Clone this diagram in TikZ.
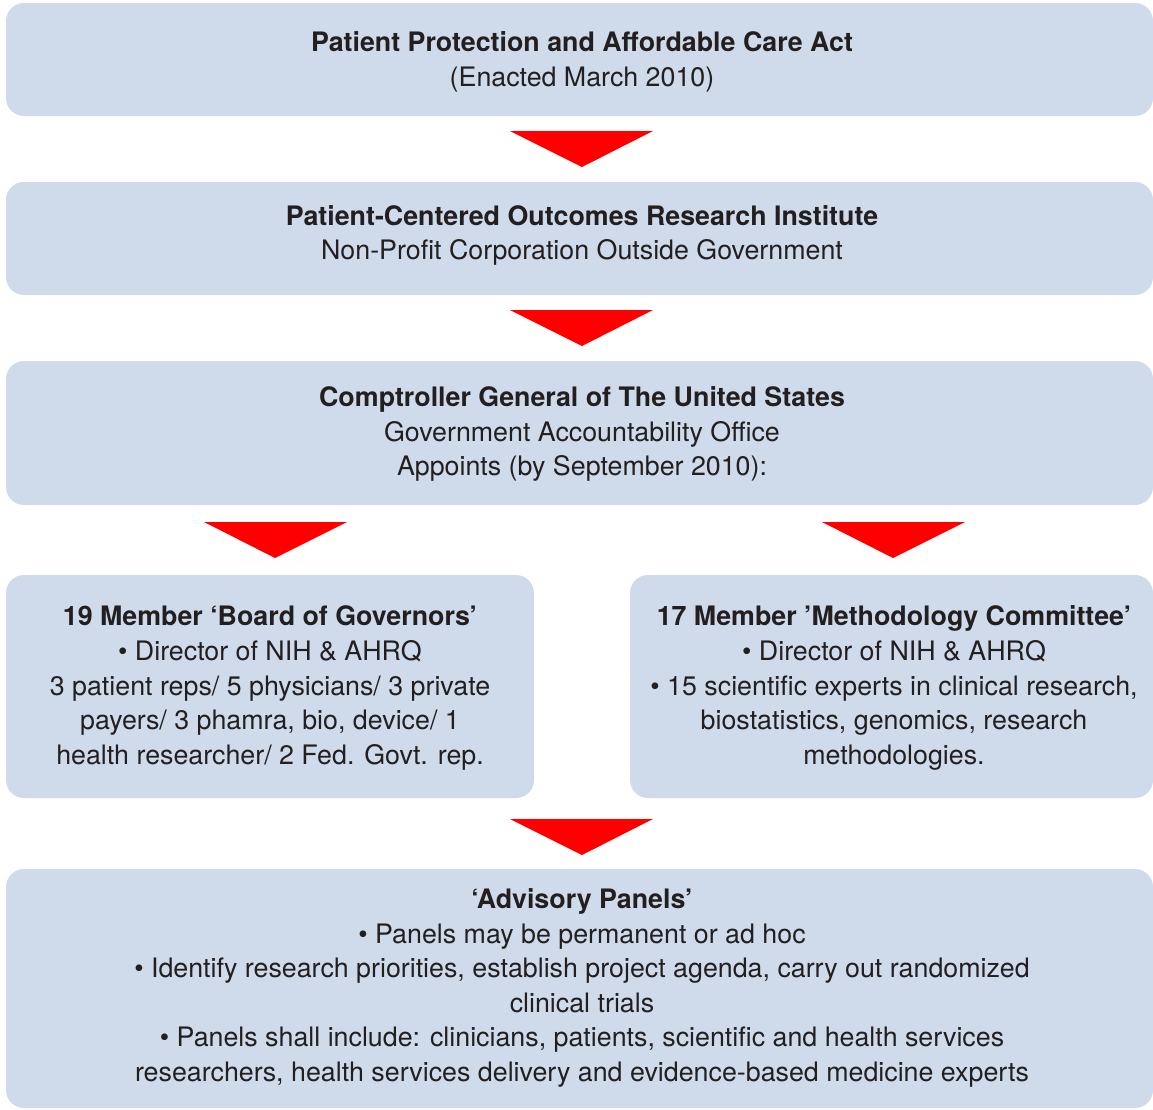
\documentclass[tikz,border=0pt]{standalone}
\usepackage{fontspec}
\setmainfont{TeX Gyre Heros}
\definecolor{boxfill}{RGB}{207,219,235}
\definecolor{txt}{RGB}{35,31,32}
\definecolor{arrred}{RGB}{255,0,0}
\begin{document}
\begin{tikzpicture}[x=1pt,y=-1pt,
  panel/.style={fill=boxfill,draw=none,rounded corners=18pt},
  label/.style={text=txt,align=center,inner sep=0pt,font=\fontsize{26.8}{34.6}\selectfont},
  downarrow/.style={fill=arrred,draw=none}]
\useasboundingbox (0,0) rectangle (1153,1109);
% boxes
\fill[panel] (6,3) rectangle (1153,116);
\fill[panel] (6,182) rectangle (1153,295);
\fill[panel] (6,361) rectangle (1153,505);
\fill[panel] (6,575) rectangle (534,798);
\fill[panel] (630,575) rectangle (1153,798);
\fill[panel] (6,869) rectangle (1153,1108);
% arrows
\fill[downarrow] (510,131) -- (653,131) -- (582,167) -- cycle;
\fill[downarrow] (510,310) -- (653,310) -- (582,346) -- cycle;
\fill[downarrow] (204,522) -- (347,522) -- (275,558) -- cycle;
\fill[downarrow] (822,522) -- (965,522) -- (893,558) -- cycle;
\fill[downarrow] (510,819) -- (653,819) -- (582,855) -- cycle;
% texts
\node[label] (t1) at (582,62) {\textbf{Patient Protection and Affordable Care Act}\\(Enacted March 2010)};
\node[label] (t2) at (582,235.5) {\textbf{Patient-Centered Outcomes Research Institute}\\Non-Profit Corporation Outside Government};
\node[label] (t3) at (582,434) {\textbf{Comptroller General of The United States}\\Government Accountability Office\\ Appoints (by September 2010):};
\node[label] (t4) at (270,688) {\textbf{19 Member ‘Board of Governors’}\\• Director of NIH \& AHRQ\\3 patient reps/ 5 physicians/ 3 private\\payers/ 3 phamra, bio, device/ 1\\health researcher/ 2 Fed. Govt. rep.};
\node[label] (t5) at (894,688) {\textbf{17 Member ’Methodology Committee’}\\• Director of NIH \& AHRQ\\• 15 scientific experts in clinical research,\\biostatistics, genomics, research\\methodologies.};
\node[label] (t6) at (582,988) {\textbf{‘Advisory Panels’}\\• Panels may be permanent or ad hoc\\• Identify research priorities, establish project agenda, carry out randomized\\clinical trials\\• Panels shall include: clinicians, patients, scientific and health services\\researchers, health services delivery and evidence-based medicine experts};
\end{tikzpicture}
\end{document}
